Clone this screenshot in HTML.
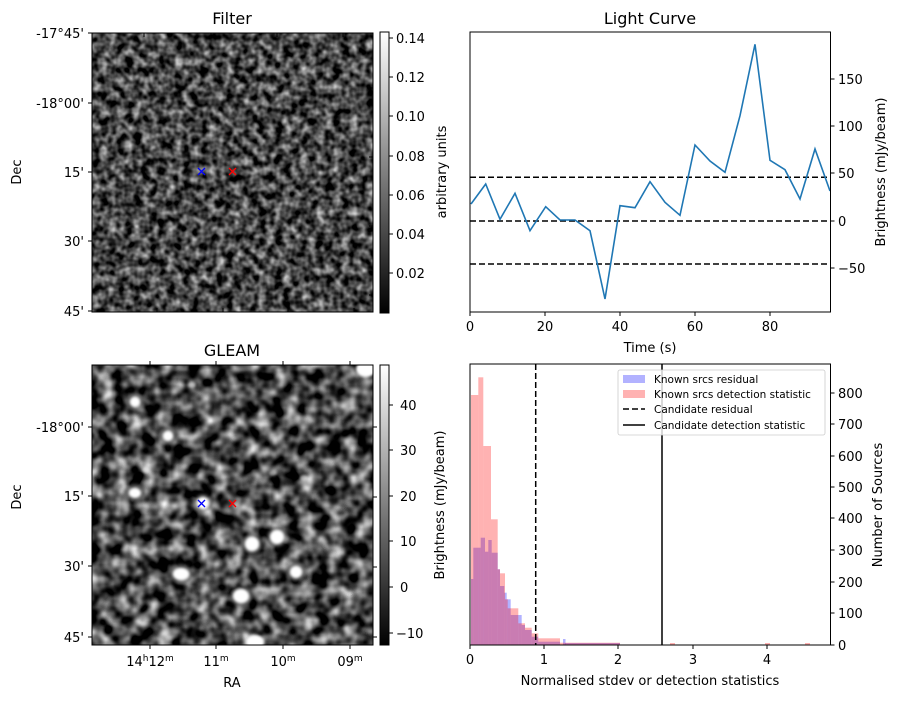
<!DOCTYPE html>
<html><head><meta charset="utf-8"><style>
html,body{margin:0;padding:0;background:#fff}
text{font-family:"DejaVu Sans","Liberation Sans",sans-serif;fill:#000}
</style></head><body>
<svg width="898" height="699" viewBox="0 0 898 699" xmlns="http://www.w3.org/2000/svg">
<defs>
<filter id="n1" x="0" y="0" width="100%" height="100%" color-interpolation-filters="sRGB">
<feTurbulence type="fractalNoise" baseFrequency="0.12" numOctaves="2" seed="3"/>
<feColorMatrix type="matrix" values="1.35 0 0 0 -0.4  1.35 0 0 0 -0.4  1.35 0 0 0 -0.4  0 0 0 0 1"/>
</filter>
<filter id="n2" x="0" y="0" width="100%" height="100%" color-interpolation-filters="sRGB">
<feTurbulence type="fractalNoise" baseFrequency="0.07" numOctaves="2" seed="8"/>
<feColorMatrix type="matrix" values="1.7 0 0 0 -0.56  1.7 0 0 0 -0.56  1.7 0 0 0 -0.56  0 0 0 0 1"/>
</filter>
<filter id="bl"><feGaussianBlur stdDeviation="1.2"/></filter>
<linearGradient id="cg" x1="0" y1="1" x2="0" y2="0"><stop offset="0" stop-color="#000"/><stop offset="1" stop-color="#fff"/></linearGradient>
<clipPath id="c2"><rect x="92" y="365" width="281" height="280"/></clipPath>
</defs>

<!-- Filter panel -->
<text x="232" y="24" font-size="16" text-anchor="middle">Filter</text>
<rect x="92" y="33" width="281" height="279" filter="url(#n1)"/>
<rect x="92" y="33" width="281" height="279" fill="none" stroke="#000" stroke-width="1"/>
<g stroke="#000" stroke-width="1">
<line x1="88" y1="33" x2="92" y2="33"/><line x1="88" y1="103" x2="92" y2="103"/><line x1="88" y1="172" x2="92" y2="172"/><line x1="88" y1="241" x2="92" y2="241"/><line x1="88" y1="311" x2="92" y2="311"/>
<line x1="373" y1="88" x2="369" y2="88"/><line x1="373" y1="157" x2="369" y2="157"/><line x1="373" y1="226" x2="369" y2="226"/><line x1="373" y1="295" x2="369" y2="295"/>
<line x1="144" y1="33" x2="144" y2="37"/><line x1="211" y1="33" x2="211" y2="37"/><line x1="277" y1="33" x2="277" y2="37"/><line x1="343" y1="33" x2="343" y2="37"/>
<line x1="157" y1="312" x2="157" y2="308"/><line x1="223" y1="312" x2="223" y2="308"/><line x1="288" y1="312" x2="288" y2="308"/><line x1="354" y1="312" x2="354" y2="308"/>
</g>
<g font-size="13" text-anchor="end">
<text x="84" y="38">-17°45'</text><text x="84" y="108">-18°00'</text><text x="84" y="177">15'</text><text x="84" y="246">30'</text><text x="84" y="316">45'</text>
</g>
<text transform="translate(21,172) rotate(-90)" font-size="13" text-anchor="middle">Dec</text>
<g stroke-width="1.3"><path d="M198,168 l7,7 M205,168 l-7,7" stroke="#00f"/><path d="M229,168 l7,7 M236,168 l-7,7" stroke="#f00"/></g>
<!-- cb1 -->
<rect x="380" y="32" width="9" height="281" fill="url(#cg)" stroke="#000" stroke-width="1"/>
<g stroke="#000"><line x1="389" y1="38" x2="393" y2="38"/><line x1="389" y1="77" x2="393" y2="77"/><line x1="389" y1="116" x2="393" y2="116"/><line x1="389" y1="156" x2="393" y2="156"/><line x1="389" y1="195" x2="393" y2="195"/><line x1="389" y1="234" x2="393" y2="234"/><line x1="389" y1="273" x2="393" y2="273"/></g>
<g font-size="13"><text x="396" y="43">0.14</text><text x="396" y="82">0.12</text><text x="396" y="121">0.10</text><text x="396" y="161">0.08</text><text x="396" y="200">0.06</text><text x="396" y="239">0.04</text><text x="396" y="278">0.02</text></g>
<text transform="translate(446,172) rotate(-90)" font-size="13" text-anchor="middle">arbitrary units</text>

<!-- GLEAM panel -->
<text x="232" y="356" font-size="16" text-anchor="middle">GLEAM</text>
<rect x="92" y="365" width="281" height="280" filter="url(#n2)"/>
<g clip-path="url(#c2)" fill="#fff" filter="url(#bl)">
<g fill="#777" opacity="0.6">
<ellipse cx="135" cy="402" rx="9" ry="9"/><ellipse cx="168" cy="436" rx="9" ry="9"/><ellipse cx="135" cy="493" rx="10" ry="9"/>
<ellipse cx="203" cy="503" rx="9" ry="9"/><ellipse cx="252" cy="544" rx="10" ry="10"/><ellipse cx="277" cy="537" rx="10" ry="10"/>
<ellipse cx="181" cy="574" rx="11" ry="10"/><ellipse cx="296" cy="572" rx="10" ry="9"/><ellipse cx="241" cy="596" rx="11" ry="10"/>
</g>
<ellipse cx="135" cy="402" rx="5" ry="5"/><ellipse cx="168" cy="436" rx="5" ry="5"/><ellipse cx="135" cy="493" rx="6" ry="5"/>
<ellipse cx="203" cy="503" rx="6" ry="6"/><ellipse cx="252" cy="544" rx="7" ry="7"/><ellipse cx="277" cy="537" rx="7" ry="7"/>
<ellipse cx="181" cy="574" rx="8" ry="6"/><ellipse cx="296" cy="572" rx="6" ry="6"/><ellipse cx="241" cy="596" rx="8" ry="7"/>
<ellipse cx="255" cy="642" rx="9" ry="7"/><ellipse cx="366" cy="369" rx="10" ry="8"/><ellipse cx="146" cy="470" rx="4" ry="3" opacity="0.6"/>
<ellipse cx="273" cy="473" rx="4" ry="3" opacity="0.5"/><ellipse cx="192" cy="385" rx="4" ry="3" opacity="0.6"/><ellipse cx="304" cy="478" rx="4" ry="3" opacity="0.5"/>
</g>
<rect x="92" y="365" width="281" height="280" fill="none" stroke="#000" stroke-width="1"/>
<g stroke="#000" stroke-width="1">
<line x1="88" y1="427" x2="92" y2="427"/><line x1="88" y1="496" x2="92" y2="496"/><line x1="88" y1="566" x2="92" y2="566"/><line x1="88" y1="637" x2="92" y2="637"/>
<line x1="150" y1="645" x2="150" y2="649"/><line x1="216" y1="645" x2="216" y2="649"/><line x1="283" y1="645" x2="283" y2="649"/><line x1="350" y1="645" x2="350" y2="649"/>
<line x1="150" y1="365" x2="150" y2="361"/><line x1="216" y1="365" x2="216" y2="361"/><line x1="283" y1="365" x2="283" y2="361"/><line x1="350" y1="365" x2="350" y2="361"/>
<line x1="373" y1="427" x2="377" y2="427"/><line x1="373" y1="497" x2="377" y2="497"/><line x1="373" y1="567" x2="377" y2="567"/><line x1="373" y1="637" x2="377" y2="637"/>
</g>
<g font-size="13" text-anchor="end">
<text x="84" y="432">-18°00'</text><text x="84" y="501">15'</text><text x="84" y="571">30'</text><text x="84" y="642">45'</text>
</g>
<text transform="translate(21,497) rotate(-90)" font-size="13" text-anchor="middle">Dec</text>
<g font-size="13" text-anchor="middle">
<text x="150" y="666">14<tspan font-size="9" dy="-5">h</tspan><tspan dy="5">12</tspan><tspan font-size="9" dy="-5">m</tspan></text>
<text x="216" y="666">11<tspan font-size="9" dy="-5">m</tspan></text>
<text x="283" y="666">10<tspan font-size="9" dy="-5">m</tspan></text>
<text x="350" y="666">09<tspan font-size="9" dy="-5">m</tspan></text>
<text x="232" y="687">RA</text>
</g>
<g stroke-width="1.3"><path d="M198,500 l7,7 M205,500 l-7,7" stroke="#00f"/><path d="M229,500 l7,7 M236,500 l-7,7" stroke="#f00"/></g>
<!-- cb2 -->
<rect x="380" y="365" width="9" height="280" fill="url(#cg)" stroke="#000" stroke-width="1"/>
<g stroke="#000"><line x1="389" y1="405" x2="393" y2="405"/><line x1="389" y1="450" x2="393" y2="450"/><line x1="389" y1="496" x2="393" y2="496"/><line x1="389" y1="541" x2="393" y2="541"/><line x1="389" y1="587" x2="393" y2="587"/><line x1="389" y1="633" x2="393" y2="633"/></g>
<g font-size="13"><text x="400" y="410">40</text><text x="400" y="455">30</text><text x="400" y="501">20</text><text x="400" y="546">10</text><text x="400" y="592">0</text><text x="396" y="638">−10</text></g>
<text transform="translate(444,505) rotate(-90)" font-size="13" text-anchor="middle">Brightness (mJy/beam)</text>

<!-- Light curve -->
<text x="650" y="24" font-size="16" text-anchor="middle">Light Curve</text>
<g stroke="#000" stroke-width="1.5" stroke-dasharray="6,3">
<line x1="470" y1="177.3" x2="830" y2="177.3"/><line x1="470" y1="221" x2="830" y2="221"/><line x1="470" y1="264" x2="830" y2="264"/>
</g>
<polyline fill="none" stroke="#1f77b4" stroke-width="1.6" points="471,204 485.7,184 500,219.3 515,193.3 530,230.7 545.7,206.7 560,220 575,220 590,230.7 605,299 620,205.7 635,207.7 650,181.7 665,202.3 680,215.3 695,145 710,161 725,172.3 740,115.7 755,44.3 770,160.3 785,169.7 800,199 815,149 830,191"/>
<rect x="470" y="32" width="360.5" height="280" fill="none" stroke="#000" stroke-width="1"/>
<g stroke="#000"><line x1="470" y1="312" x2="470" y2="316"/><line x1="545" y1="312" x2="545" y2="316"/><line x1="620" y1="312" x2="620" y2="316"/><line x1="695" y1="312" x2="695" y2="316"/><line x1="770" y1="312" x2="770" y2="316"/>
<line x1="830.5" y1="79" x2="834.5" y2="79"/><line x1="830.5" y1="126" x2="834.5" y2="126"/><line x1="830.5" y1="173" x2="834.5" y2="173"/><line x1="830.5" y1="221" x2="834.5" y2="221"/><line x1="830.5" y1="268" x2="834.5" y2="268"/></g>
<g font-size="13" text-anchor="middle"><text x="470" y="331">0</text><text x="545" y="331">20</text><text x="620" y="331">40</text><text x="695" y="331">60</text><text x="770" y="331">80</text><text x="650" y="352">Time (s)</text></g>
<g font-size="13"><text x="838" y="84">150</text><text x="838" y="131">100</text><text x="838" y="178">50</text><text x="838" y="226">0</text><text x="838" y="273">−50</text></g>
<text transform="translate(885,172) rotate(-90)" font-size="13" text-anchor="middle">Brightness (mJy/beam)</text>

<!-- Histogram -->
<g fill="#0000ff" fill-opacity="0.3">
<rect x="471" y="579" width="2.3" height="66"/><rect x="473.3" y="547.7" width="7.4" height="97.3"/><rect x="480.7" y="537.7" width="4.3" height="107.3"/>
<rect x="485" y="551.7" width="3.3" height="93.3"/><rect x="488.3" y="540" width="3.4" height="105"/><rect x="491.7" y="552.7" width="6" height="92.3"/>
<rect x="497.7" y="569.3" width="2.3" height="75.7"/><rect x="500" y="586" width="4.3" height="59"/><rect x="504.3" y="592.7" width="2.4" height="52.3"/>
<rect x="506.7" y="599.3" width="4" height="45.7"/><rect x="510.7" y="615" width="7.6" height="30"/><rect x="518.3" y="615" width="3.4" height="30"/>
<rect x="521.7" y="625" width="3.3" height="20"/><rect x="525" y="630" width="6.7" height="15"/><rect x="531.7" y="636.7" width="6.6" height="8.3"/>
<rect x="538.3" y="641.7" width="21.7" height="3.3"/><rect x="563" y="639" width="2.5" height="6"/><rect x="565" y="643" width="55" height="2"/>
</g>
<g fill="#ff0000" fill-opacity="0.3">
<rect x="471" y="395" width="7.3" height="250"/><rect x="478.3" y="377.3" width="5" height="267.7"/><rect x="483.3" y="446" width="7.7" height="199"/>
<rect x="491" y="519.3" width="6.7" height="125.7"/><rect x="497.7" y="569.3" width="2.3" height="75.7"/><rect x="500" y="573.3" width="5" height="71.7"/>
<rect x="505" y="599.3" width="2.7" height="45.7"/><rect x="507.7" y="608.3" width="10.6" height="36.7"/><rect x="518.3" y="623.3" width="6.7" height="21.7"/>
<rect x="525" y="627.7" width="6.7" height="17.3"/><rect x="531.7" y="633.3" width="6.6" height="11.7"/><rect x="538.3" y="638.3" width="21.7" height="6.7"/>
<rect x="560" y="642.7" width="60" height="2.3"/><rect x="670" y="643" width="5" height="2"/><rect x="765" y="643" width="5" height="2"/><rect x="805" y="643" width="5" height="2"/>
</g>
<line x1="535.7" y1="364" x2="535.7" y2="645" stroke="#000" stroke-width="1.5" stroke-dasharray="6,3"/>
<line x1="662" y1="364" x2="662" y2="645" stroke="#000" stroke-width="1.5"/>
<rect x="470" y="364" width="360.5" height="281" fill="none" stroke="#000" stroke-width="1"/>
<!-- legend -->
<rect x="618" y="370" width="207" height="65" rx="2" fill="#fff" fill-opacity="0.8" stroke="#ccc" stroke-width="0.8"/>
<rect x="623" y="375" width="22" height="8" fill="#0000ff" fill-opacity="0.3"/>
<rect x="623" y="390" width="22" height="8" fill="#ff0000" fill-opacity="0.3"/>
<line x1="623" y1="409" x2="645" y2="409" stroke="#000" stroke-width="1.5" stroke-dasharray="6,3"/>
<line x1="623" y1="425" x2="645" y2="425" stroke="#000" stroke-width="1.5"/>
<g font-size="10.5"><text x="654" y="383">Known srcs residual</text><text x="654" y="398">Known srcs detection statistic</text><text x="654" y="413">Candidate residual</text><text x="654" y="429">Candidate detection statistic</text></g>
<g stroke="#000"><line x1="470" y1="645" x2="470" y2="649"/><line x1="544" y1="645" x2="544" y2="649"/><line x1="618" y1="645" x2="618" y2="649"/><line x1="693" y1="645" x2="693" y2="649"/><line x1="767" y1="645" x2="767" y2="649"/>
<line x1="830.5" y1="393" x2="834.5" y2="393"/><line x1="830.5" y1="424" x2="834.5" y2="424"/><line x1="830.5" y1="456" x2="834.5" y2="456"/><line x1="830.5" y1="487" x2="834.5" y2="487"/><line x1="830.5" y1="518" x2="834.5" y2="518"/><line x1="830.5" y1="550" x2="834.5" y2="550"/><line x1="830.5" y1="582" x2="834.5" y2="582"/><line x1="830.5" y1="613" x2="834.5" y2="613"/><line x1="830.5" y1="645" x2="834.5" y2="645"/></g>
<g font-size="13" text-anchor="middle"><text x="470" y="664">0</text><text x="544" y="664">1</text><text x="618" y="664">2</text><text x="693" y="664">3</text><text x="767" y="664">4</text><text x="650" y="685">Normalised stdev or detection statistics</text></g>
<g font-size="13"><text x="838" y="398">800</text><text x="838" y="429">700</text><text x="838" y="461">600</text><text x="838" y="492">500</text><text x="838" y="523">400</text><text x="838" y="555">300</text><text x="838" y="587">200</text><text x="838" y="618">100</text><text x="838" y="650">0</text></g>
<text transform="translate(882,505) rotate(-90)" font-size="13" text-anchor="middle">Number of Sources</text>
</svg>
</body></html>
